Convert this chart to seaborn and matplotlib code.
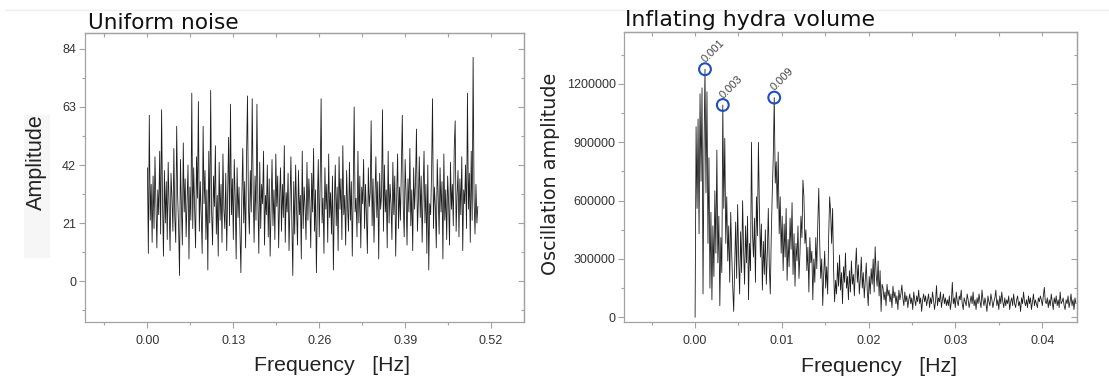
import numpy as np
import matplotlib
matplotlib.use("Agg")
import matplotlib.pyplot as plt
from matplotlib.ticker import FixedLocator, MultipleLocator, FuncFormatter
from matplotlib.lines import Line2D
from matplotlib.patches import Rectangle
import seaborn as sns

# --- Uniform noise: amplitude spectrum, 0 .. 0.5 Hz -------------------------
noise_amplitude = [
    41, 10, 60, 22, 35, 14, 38, 19, 45, 28,
    12, 33, 24, 47, 17, 62, 29, 9, 40, 21,
    36, 15, 43, 26, 11, 39, 30, 18, 48, 23,
    14, 56, 31, 20, 2, 44, 27, 13, 50, 25,
    37, 16, 29, 42, 8, 34, 22, 68, 19, 41,
    26, 12, 45, 30, 65, 18, 36, 24, 10, 56,
    28, 40, 15, 33, 4, 47, 21, 69, 25, 13,
    38, 27, 49, 17, 31, 9, 43, 22, 35, 14,
    46, 26, 19, 39, 11, 32, 52, 20, 64, 24,
    37, 15, 44, 29, 8, 41, 23, 34, 18, 3,
    30, 48, 21, 36, 12, 45, 67, 27, 17, 40,
    25, 66, 33, 14, 38, 22, 64, 29, 10, 43,
    19, 35, 28, 47, 13, 31, 24, 42, 16, 37,
    9, 26, 44, 20, 33, 15, 46, 27, 38, 12,
    30, 41, 18, 35, 23, 49, 14, 32, 25, 39,
    11, 28, 45, 21, 2, 36, 17, 42, 26, 13,
    40, 24, 31, 8, 47, 19, 34, 27, 15, 43,
    22, 37, 29, 12, 39, 25, 48, 18, 33, 3,
    28, 44, 16, 36, 66, 21, 30, 10, 41, 26,
    35, 14, 46, 23, 32, 17, 38, 4, 29, 42,
    20, 34, 11, 45, 26, 37, 15, 49, 24, 31,
    13, 40, 27, 18, 43, 22, 36, 9, 33, 63,
    25, 30, 16, 47, 21, 38, 12, 34, 28, 44,
    19, 35, 24, 10, 41, 27, 32, 58, 20, 37,
    14, 29, 45, 23, 36, 8, 39, 26, 31, 62,
    18, 42, 25, 33, 12, 47, 21, 35, 28, 15,
    43, 24, 38, 9, 30, 46, 19, 34, 22, 40,
    60, 27, 16, 44, 31, 13, 37, 25, 48, 20,
    33, 11, 41, 26, 36, 55, 18, 29, 45, 23,
    38, 14, 32, 47, 21, 35, 10, 42, 4, 28,
    24, 39, 66, 19, 34, 27, 12, 44, 30, 17,
    41, 25, 36, 8, 46, 22, 33, 15, 38, 29,
    13, 43, 26, 35, 20, 48, 58, 18, 31, 40,
    16, 37, 24, 45, 11, 33, 28, 42, 19, 68,
    26, 39, 14, 47, 22, 81, 30, 17, 35, 21,
    27,
]
noise_fmax = 0.5

# --- Inflating hydra volume: oscillation amplitude (thousands) --------------
hydra_amplitude_k = [
    0, 980, 560, 1020, 430, 1150, 700, 1180, 120, 860,
    1276, 640, 1160, 380, 820, 150, 540, 90, 470, 210,
    650, 330, 860, 280, 520, 60, 410, 230, 1092, 560,
    920, 380, 620, 290, 470, 180, 540, 330, 160, 30,
    250, 490, 200, 580, 310, 120, 440, 230, 600, 350,
    170, 470, 280, 520, 90, 380, 240, 900, 430, 310,
    510, 180, 620, 420, 900, 560, 310, 480, 140, 390,
    220, 450, 170, 330, 560, 260, 120, 420, 640, 820,
    1130, 690, 800, 560, 850, 430, 620, 330, 520, 240,
    480, 310, 560, 190, 400, 260, 510, 350, 590, 220,
    430, 160, 380, 290, 470, 200, 330, 520, 410, 706,
    620, 380, 450, 240, 360, 130, 410, 280, 340, 90,
    300, 180, 410, 250, 480, 663, 370, 200, 300, 60,
    220, 340, 150, 260, 120, 410, 620, 540, 380, 560,
    240, 80, 190, 120, 280, 160, 320, 140, 230, 70,
    260, 180, 330, 150, 210, 90, 240, 130, 290, 170,
    220, 110, 250, 356, 180, 270, 120, 200, 310, 150,
    230, 100, 190, 280, 140, 60, 210, 120, 250, 170,
    300, 130, 363, 220, 160, 290, 110, 240, 30, 170,
    150, 90, 130, 60, 170, 110, 140, 80, 120, 50,
    160, 100, 130, 70, 110, 40, 140, 90, 120, 166,
    100, 60, 130, 80, 110, 50, 90, 120, 70, 100,
    40, 130, 90, 60, 110, 80, 140, 70, 100, 30,
    90, 120, 80, 110, 60, 90, 120, 50, 100, 70,
    130, 90, 40, 80, 163, 60, 100, 80, 130, 50,
    90, 120, 70, 100, 60, 90, 60, 110, 40, 80,
    180, 70, 100, 50, 130, 80, 60, 110, 90, 140,
    70, 40, 100, 80, 60, 120, 90, 50, 80, 110,
    70, 130, 60, 90, 40, 100, 70, 120, 80, 50,
    140, 90, 60, 100, 70, 30, 110, 80, 60, 120,
    90, 50, 80, 100, 140, 60, 90, 40, 110, 70,
    130, 80, 50, 100, 60, 90, 70, 110, 40, 80,
    100, 60, 120, 70, 50, 90, 110, 60, 80, 30,
    100, 70, 130, 80, 60, 90, 50, 110, 70, 100,
    40, 80, 120, 60, 90, 70, 50, 100, 80, 110,
    90, 60, 110, 154, 80, 70, 100, 50, 90, 60,
    120, 80, 40, 100, 70, 110, 60, 90, 50, 130,
    70, 80, 100, 60, 40, 90, 70, 110, 50, 80,
    120, 60, 90, 40, 100, 70,
]
hydra_df = 0.000114          # frequency resolution [Hz]
peak_idx = [10, 28, 80]      # highlighted spectral peaks

noise_xticks = [0.00, 0.13, 0.26, 0.39, 0.52]
noise_yticks = [0, 21, 42, 63, 84]
hydra_xticks = [0.00, 0.01, 0.02, 0.03, 0.04]
hydra_yticks = [0, 300000, 600000, 900000, 1200000]

noise_freq = np.linspace(0.0, noise_fmax, len(noise_amplitude))
hydra_freq = np.arange(len(hydra_amplitude_k)) * hydra_df
hydra_amp = np.asarray(hydra_amplitude_k, dtype=float) * 1000.0

# --- style -----------------------------------------------------------------
sns.set_theme(style="white")
plt.rcParams["font.family"] = ["Liberation Sans", "DejaVu Sans"]

W, H = 1109, 382
fig = plt.figure(figsize=(W / 100, H / 100), dpi=100)
fig.patch.set_facecolor("white")

AX_GREY = "#a2a2a2"
TXT = "#333333"


def frame(ax, xmaj, xminor, ymaj, yminor, xfmt, yfmt):
    for sp in ax.spines.values():
        sp.set_color(AX_GREY)
        sp.set_linewidth(0.9)
    ax.xaxis.set_major_locator(FixedLocator(xmaj))
    ax.xaxis.set_minor_locator(MultipleLocator(xminor))
    ax.yaxis.set_major_locator(FixedLocator(ymaj))
    ax.yaxis.set_minor_locator(MultipleLocator(yminor))
    ax.xaxis.set_major_formatter(FuncFormatter(lambda v, p: xfmt.format(v)))
    ax.yaxis.set_major_formatter(FuncFormatter(lambda v, p: yfmt.format(v)))
    ax.tick_params(which="both", direction="out", color=AX_GREY,
                   labelcolor=TXT, labelsize=9, bottom=True, left=True)
    ax.tick_params(which="major", length=4.2, width=0.8)
    ax.tick_params(which="minor", length=2.4, width=0.8)
    ax.tick_params(axis="x", pad=5)
    ax.tick_params(axis="y", pad=2)
    ax.set_xlabel("")
    ax.set_ylabel("")
    # inward ticks on the top and right edges
    top = ax.secondary_xaxis("top")
    top.xaxis.set_major_locator(FixedLocator(xmaj))
    top.xaxis.set_minor_locator(MultipleLocator(xminor))
    top.tick_params(which="both", direction="in", color=AX_GREY,
                    labeltop=False, labelbottom=False)
    top.tick_params(which="major", length=3.2, width=0.8)
    top.tick_params(which="minor", length=3.2, width=0.8)
    top.spines["top"].set_color(AX_GREY)
    top.spines["top"].set_linewidth(0.9)
    right = ax.secondary_yaxis("right")
    right.yaxis.set_major_locator(FixedLocator(ymaj))
    right.yaxis.set_minor_locator(MultipleLocator(yminor))
    right.tick_params(which="both", direction="in", color=AX_GREY,
                      labelright=False, labelleft=False)
    right.tick_params(which="major", length=4.2, width=0.8)
    right.tick_params(which="minor", length=2.4, width=0.8)
    right.spines["right"].set_color(AX_GREY)
    right.spines["right"].set_linewidth(0.9)


# faint page guides
fig.add_artist(Line2D([5 / W, 1.0], [1 - 10 / H, 1 - 10 / H],
                      color="#efefef", lw=1.0))
fig.add_artist(Rectangle((24 / W, 1 - 258 / H), 26 / W, 143 / H,
                         facecolor="#f6f6f6", edgecolor="none", zorder=0))

# --- left panel: uniform noise ---------------------------------------------
ax1 = fig.add_axes([84.7 / W, 1 - 322 / H, (524.1 - 84.7) / W, (322 - 32.7) / H])
sns.lineplot(x=noise_freq, y=noise_amplitude, ax=ax1, color="#1e1e1e",
             linewidth=0.6, estimator=None, sort=False)
ax1.set_xlim(-0.0949, 0.570)
ax1.set_ylim(-14.84, 89.9)
frame(ax1, noise_xticks, 0.065, noise_yticks, 10.5, "{:.2f}", "{:.0f}")

fig.text(87.8 / W, 1 - 29 / H, "Uniform noise", ha="left", va="baseline",
         fontsize=15.6, family="DejaVu Sans", color="#111111")
fig.text(36 / W, 1 - 162.4 / H, "Amplitude", rotation=90, ha="center",
         va="center", fontsize=15.5, color="#222222")
fig.text(331.5 / W, 1 - 371 / H, "Frequency   [Hz]", ha="center",
         va="baseline", fontsize=15.3, color="#222222")

# --- right panel: inflating hydra volume ------------------------------------
ax2 = fig.add_axes([624.2 / W, 1 - 322 / H, (1076.5 - 624.2) / W, (322 - 32.3) / H])
sns.lineplot(x=hydra_freq, y=hydra_amp, ax=ax2, color="#1e1e1e",
             linewidth=0.6, estimator=None, sort=False)
ax2.set_xlim(-0.00817, 0.04395)
ax2.set_ylim(-24170, 1465900)
frame(ax2, hydra_xticks, 0.005, hydra_yticks, 150000, "{:.2f}", "{:.0f}")

pk_f = hydra_freq[peak_idx]
pk_a = hydra_amp[peak_idx]
ax2.scatter(pk_f, pk_a, s=72, facecolors="none", edgecolors="#1f4fbf",
            linewidths=1.5, zorder=5)
for f, a in zip(pk_f, pk_a):
    ax2.annotate(f"{f:.3f}", xy=(f, a), xytext=(0.5, 4.5),
                 textcoords="offset points", rotation=45,
                 rotation_mode="anchor", ha="left", va="baseline",
                 fontsize=8, color="#444444", zorder=6)

fig.text(625.3 / W, 1 - 26.5 / H, "Inflating hydra volume", ha="left",
         va="baseline", fontsize=15.8, family="DejaVu Sans", color="#111111")
fig.text(550 / W, 1 - 173.4 / H, "Oscillation amplitude", rotation=90,
         ha="center", va="center", fontsize=13.8, family="DejaVu Sans",
         color="#222222")
fig.text(879 / W, 1 - 371.5 / H, "Frequency   [Hz]", ha="center",
         va="baseline", fontsize=15.3, color="#222222")

fig.savefig("out.png", dpi=100, facecolor="white")
